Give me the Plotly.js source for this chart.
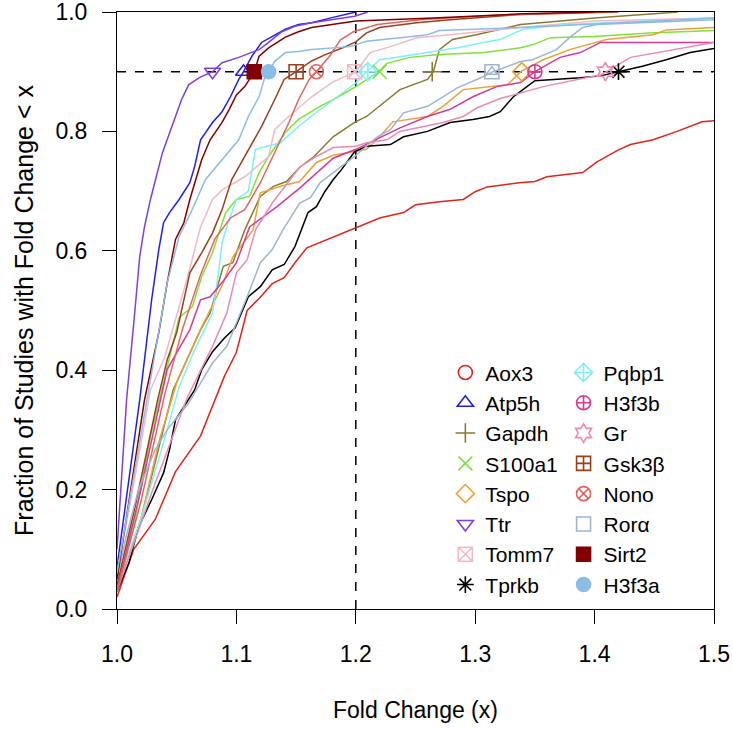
<!DOCTYPE html>
<html>
<head>
<meta charset="utf-8">
<script src="https://cdn.plot.ly/plotly-3.0.1.min.js"></script>
<style>
  body { margin: 0; background: #fff; }
</style>
</head>
<body>
<div id="myDiv" style="width:733px;height:729px;"></div>
<script>
// fold change (x) and fraction of studies with fold change < x
var aox3X = [1.0, 1.014, 1.032, 1.049, 1.07, 1.082, 1.09, 1.1, 1.109, 1.119, 1.13, 1.14, 1.149, 1.159, 1.2, 1.22, 1.24, 1.25, 1.27, 1.29, 1.3, 1.31, 1.337, 1.35, 1.36, 1.39, 1.402, 1.42, 1.43, 1.449, 1.469, 1.49, 1.5];
var aox3Y = [0.02, 0.10, 0.15, 0.23, 0.29, 0.35, 0.39, 0.43, 0.50, 0.52, 0.545, 0.555, 0.58, 0.605, 0.638, 0.655, 0.664, 0.677, 0.682, 0.686, 0.699, 0.707, 0.714, 0.716, 0.724, 0.731, 0.749, 0.769, 0.778, 0.786, 0.80, 0.816, 0.818];

var atp5hX = [1.0, 1.019, 1.029, 1.035, 1.039, 1.044, 1.052, 1.061, 1.065, 1.07, 1.08, 1.088, 1.095, 1.102, 1.106, 1.113, 1.121, 1.13, 1.141, 1.152, 1.163, 1.181, 1.195, 1.2];
var atp5hY = [0.07, 0.35, 0.518, 0.602, 0.647, 0.664, 0.686, 0.714, 0.741, 0.786, 0.815, 0.833, 0.858, 0.887, 0.9, 0.926, 0.949, 0.959, 0.971, 0.979, 0.982, 0.991, 0.998, 1.0];

var gapdhX = [1.0, 1.02, 1.035, 1.047, 1.07, 1.078, 1.089, 1.097, 1.107, 1.12, 1.131, 1.142, 1.153, 1.164, 1.181, 1.199, 1.209, 1.223, 1.237, 1.26, 1.265, 1.27, 1.281, 1.301, 1.338, 1.4, 1.47];
var gapdhY = [0.03, 0.15, 0.27, 0.367, 0.468, 0.496, 0.574, 0.58, 0.635, 0.691, 0.708, 0.716, 0.74, 0.756, 0.791, 0.815, 0.825, 0.848, 0.87, 0.887, 0.9, 0.937, 0.954, 0.962, 0.979, 0.99, 1.0];

var s100a1X = [1.0, 1.015, 1.028, 1.052, 1.063, 1.071, 1.08, 1.091, 1.1, 1.111, 1.119, 1.127, 1.141, 1.152, 1.17, 1.181, 1.2, 1.218, 1.226, 1.245, 1.27, 1.307, 1.338, 1.348, 1.363, 1.399, 1.446, 1.5];
var s100a1Y = [0.03, 0.15, 0.288, 0.488, 0.506, 0.557, 0.597, 0.664, 0.686, 0.691, 0.731, 0.758, 0.798, 0.82, 0.842, 0.853, 0.875, 0.898, 0.914, 0.924, 0.929, 0.932, 0.94, 0.945, 0.957, 0.959, 0.965, 0.969];

var tspoX = [1.0, 1.02, 1.035, 1.05, 1.07, 1.089, 1.097, 1.114, 1.12, 1.137, 1.153, 1.167, 1.181, 1.2, 1.209, 1.22, 1.231, 1.26, 1.273, 1.29, 1.327, 1.338, 1.357, 1.379, 1.41, 1.449, 1.46, 1.5];
var tspoY = [0.03, 0.15, 0.28, 0.379, 0.468, 0.546, 0.59, 0.635, 0.697, 0.708, 0.716, 0.748, 0.76, 0.766, 0.77, 0.791, 0.816, 0.825, 0.842, 0.87, 0.878, 0.9, 0.92, 0.937, 0.954, 0.962, 0.97, 0.974];

var ttrX = [1.0, 1.008, 1.015, 1.019, 1.023, 1.028, 1.038, 1.046, 1.054, 1.06, 1.069, 1.08, 1.088, 1.102, 1.119, 1.127, 1.138, 1.149, 1.163, 1.199, 1.21];
var ttrY = [0.1, 0.35, 0.50, 0.59, 0.64, 0.686, 0.764, 0.808, 0.853, 0.878, 0.89, 0.9, 0.915, 0.924, 0.937, 0.949, 0.967, 0.976, 0.982, 0.993, 1.0];

var tomm7X = [1.0, 1.015, 1.028, 1.04, 1.052, 1.06, 1.07, 1.08, 1.088, 1.107, 1.127, 1.132, 1.141, 1.163, 1.181, 1.2, 1.212, 1.229, 1.251, 1.279, 1.338, 1.4, 1.5];
var tomm7Y = [0.06, 0.22, 0.367, 0.422, 0.506, 0.563, 0.64, 0.686, 0.702, 0.724, 0.758, 0.803, 0.82, 0.858, 0.883, 0.9, 0.932, 0.942, 0.957, 0.962, 0.974, 0.985, 0.99];

var tprkbX = [1.0, 1.01, 1.018, 1.029, 1.039, 1.044, 1.049, 1.056, 1.065, 1.071, 1.08, 1.09, 1.099, 1.11, 1.12, 1.13, 1.14, 1.149, 1.16, 1.167, 1.174, 1.181, 1.188, 1.199, 1.209, 1.229, 1.24, 1.26, 1.279, 1.298, 1.312, 1.321, 1.332, 1.338, 1.35, 1.388, 1.405, 1.42, 1.44, 1.46, 1.48, 1.5];
var tprkbY = [0.03, 0.077, 0.137, 0.183, 0.228, 0.267, 0.317, 0.339, 0.367, 0.401, 0.431, 0.454, 0.471, 0.523, 0.54, 0.568, 0.577, 0.607, 0.664, 0.674, 0.699, 0.719, 0.736, 0.766, 0.775, 0.778, 0.791, 0.8, 0.815, 0.82, 0.825, 0.833, 0.858, 0.867, 0.885, 0.89, 0.893, 0.9, 0.909, 0.92, 0.932, 0.939];

var pqbp1X = [1.0, 1.02, 1.042, 1.052, 1.065, 1.08, 1.085, 1.088, 1.094, 1.1, 1.11, 1.116, 1.137, 1.153, 1.181, 1.2, 1.209, 1.22, 1.237, 1.265, 1.285, 1.307, 1.321, 1.34, 1.377, 1.5];
var pqbp1Y = [0.04, 0.15, 0.3, 0.372, 0.434, 0.496, 0.563, 0.614, 0.652, 0.686, 0.7, 0.77, 0.781, 0.81, 0.853, 0.881, 0.9, 0.92, 0.925, 0.934, 0.94, 0.949, 0.954, 0.971, 0.979, 0.99];

var h3f3bX = [1.0, 1.02, 1.042, 1.061, 1.07, 1.078, 1.09, 1.1, 1.111, 1.134, 1.153, 1.181, 1.2, 1.22, 1.237, 1.26, 1.279, 1.298, 1.318, 1.338, 1.35, 1.371, 1.388, 1.405, 1.5];
var h3f3bY = [0.03, 0.2, 0.401, 0.468, 0.518, 0.523, 0.552, 0.58, 0.64, 0.674, 0.705, 0.755, 0.77, 0.79, 0.806, 0.825, 0.837, 0.858, 0.875, 0.882, 0.9, 0.924, 0.932, 0.949, 0.949];

var grX = [1.0, 1.03, 1.059, 1.08, 1.092, 1.1, 1.109, 1.116, 1.13, 1.153, 1.167, 1.181, 1.2, 1.209, 1.226, 1.237, 1.273, 1.29, 1.302, 1.321, 1.357, 1.405, 1.41, 1.43, 1.5];
var grY = [0.03, 0.2, 0.355, 0.44, 0.496, 0.563, 0.585, 0.635, 0.68, 0.74, 0.758, 0.773, 0.775, 0.781, 0.786, 0.8, 0.815, 0.825, 0.84, 0.855, 0.875, 0.895, 0.9, 0.924, 0.949];

var gsk3bX = [1.0, 1.015, 1.034, 1.042, 1.05, 1.061, 1.071, 1.08, 1.088, 1.096, 1.107, 1.121, 1.132, 1.14, 1.15, 1.163, 1.175, 1.189, 1.2, 1.209, 1.22, 1.251, 1.279, 1.338, 1.42];
var gsk3bY = [0.04, 0.17, 0.35, 0.417, 0.463, 0.563, 0.597, 0.63, 0.669, 0.719, 0.758, 0.808, 0.853, 0.887, 0.9, 0.918, 0.929, 0.94, 0.95, 0.965, 0.974, 0.982, 0.987, 0.996, 1.0];

var nonoX = [1.0, 1.02, 1.04, 1.055, 1.07, 1.082, 1.095, 1.107, 1.12, 1.132, 1.144, 1.152, 1.161, 1.167, 1.178, 1.187, 1.198, 1.218, 1.254, 1.32, 1.4];
var nonoY = [0.03, 0.18, 0.36, 0.47, 0.56, 0.62, 0.655, 0.669, 0.714, 0.764, 0.815, 0.853, 0.887, 0.9, 0.926, 0.953, 0.967, 0.979, 0.987, 0.995, 1.0];

var roraX = [1.0, 1.007, 1.018, 1.032, 1.042, 1.06, 1.08, 1.092, 1.109, 1.12, 1.13, 1.139, 1.153, 1.162, 1.17, 1.184, 1.199, 1.218, 1.229, 1.24, 1.26, 1.273, 1.285, 1.307, 1.315, 1.338, 1.348, 1.368, 1.379, 1.39, 1.402, 1.5];
var roraY = [0.05, 0.116, 0.2, 0.267, 0.3, 0.345, 0.412, 0.44, 0.523, 0.58, 0.602, 0.635, 0.68, 0.689, 0.714, 0.736, 0.758, 0.791, 0.803, 0.831, 0.842, 0.858, 0.873, 0.892, 0.9, 0.917, 0.92, 0.937, 0.957, 0.974, 0.979, 0.987];

var sirt2X = [1.0, 1.023, 1.035, 1.042, 1.049, 1.056, 1.061, 1.065, 1.071, 1.078, 1.088, 1.094, 1.1, 1.107, 1.111, 1.115, 1.119, 1.127, 1.141, 1.152, 1.163, 1.2, 1.265, 1.34, 1.4];
var sirt2Y = [0.05, 0.35, 0.463, 0.546, 0.619, 0.647, 0.686, 0.714, 0.753, 0.786, 0.815, 0.837, 0.861, 0.875, 0.887, 0.9, 0.926, 0.94, 0.958, 0.967, 0.974, 0.985, 0.99, 0.997, 1.0];

var h3f3aX = [1.0, 1.025, 1.029, 1.035, 1.042, 1.052, 1.063, 1.074, 1.088, 1.102, 1.11, 1.119, 1.124, 1.127, 1.132, 1.141, 1.152, 1.163, 1.195, 1.209, 1.237, 1.26, 1.27, 1.338, 1.4, 1.5];
var h3f3aY = [0.06, 0.35, 0.396, 0.463, 0.546, 0.624, 0.669, 0.719, 0.753, 0.786, 0.825, 0.858, 0.892, 0.9, 0.917, 0.932, 0.934, 0.937, 0.942, 0.951, 0.957, 0.962, 0.969, 0.974, 0.98, 0.99];

var genes = ['Aox3', 'Atp5h', 'Gapdh', 'S100a1', 'Tspo', 'Ttr', 'Tomm7', 'Tprkb',
             'Pqbp1', 'H3f3b', 'Gr', 'Gsk3β', 'Nono', 'Rorα', 'Sirt2', 'H3f3a'];
// fold change at which each curve reaches 0.9 (Aox3 lies past the axis)
var q90 = [1.58, 1.106, 1.264, 1.22, 1.339, 1.08, 1.199, 1.42,
           1.21, 1.35, 1.409, 1.15, 1.167, 1.314, 1.115, 1.127];
var cutoff = 0.9;
var foldLine = 1.2;

var curves = [[aox3X, aox3Y], [atp5hX, atp5hY], [gapdhX, gapdhY], [s100a1X, s100a1Y],
              [tspoX, tspoY], [ttrX, ttrY], [tomm7X, tomm7Y], [tprkbX, tprkbY],
              [pqbp1X, pqbp1Y], [h3f3bX, h3f3bY], [grX, grY], [gsk3bX, gsk3bY],
              [nonoX, nonoY], [roraX, roraY], [sirt2X, sirt2Y], [h3f3aX, h3f3aY]];

var colors = ['#e2231a', '#1f1fe8', '#8a7a2e', '#7fe23a', '#eba13a', '#7e3fe0', '#f3b8c6', '#000000',
              '#7df0fb', '#d43a98', '#ea8bb4', '#98401c', '#e2655f', '#9db5d0', '#800000', '#8cbce8'];
var symbols = ['circle-open', 'triangle-up-open', 'cross-thin-open', 'x-thin-open',
               'diamond-open', 'triangle-down-open', 'square-x-open', 'asterisk-open',
               'diamond-cross-open', 'circle-cross-open', 'hexagram-open', 'square-cross-open',
               'circle-x-open', 'square-open', 'square', 'circle'];

var graphDiv = document.getElementById('myDiv');
var traces = [];

genes.forEach(function (g, i) {
    traces.push({
        type: 'scatter',
        mode: 'lines',
        x: curves[i][0],
        y: curves[i][1],
        line: { color: colors[i], width: 1.5 },
        showlegend: false,
        hoverinfo: 'skip'
    });
});

genes.forEach(function (g, i) {
    traces.push({
        type: 'scatter',
        mode: 'markers',
        name: g,
        x: [q90[i]],
        y: [cutoff],
        legend: i < 8 ? 'legend' : 'legend2',
        marker: {
            symbol: symbols[i],
            size: 14,
            color: colors[i],
            line: { color: colors[i], width: 1.6 }
        }
    });
});

// triangle inside the Rorα square
traces.push({
    type: 'scatter',
    mode: 'markers',
    x: [q90[13]],
    y: [cutoff],
    showlegend: false,
    marker: { symbol: 'triangle-up-open', size: 10, color: colors[13], line: { color: colors[13], width: 1.4 } }
});

var axisStyle = {
    showline: true,
    linecolor: '#000',
    linewidth: 1,
    mirror: true,
    ticks: 'outside',
    ticklen: 14,
    tickwidth: 1,
    tickcolor: '#000',
    showgrid: false,
    zeroline: false,
    tickformat: '.1f',
    ticklabeloverflow: 'allow',
    tickfont: { size: 23 }
};

var legendStyle = {
    font: { size: 21, color: '#000' },
    bgcolor: 'rgba(0,0,0,0)',
    itemwidth: 30,
    tracegroupgap: 0,
    yanchor: 'top',
    xanchor: 'left'
};

Plotly.newPlot(graphDiv, traces, {
    width: 733,
    height: 729,
    margin: { l: 117, r: 19, t: 12, b: 120 },
    paper_bgcolor: '#fff',
    plot_bgcolor: '#fff',
    font: { family: 'Liberation Sans, Arial, Helvetica, sans-serif', color: '#000' },
    xaxis: Object.assign({}, axisStyle, {
        range: [1, 1.5],
        tick0: 1,
        dtick: 0.1,
        ticklabelstandoff: 10,
        title: { text: 'Fold Change (x)', font: { size: 23 }, standoff: 36 }
    }),
    yaxis: Object.assign({}, axisStyle, {
        range: [0, 1],
        tick0: 0,
        dtick: 0.2,
        ticklabelstandoff: 10,
        title: { text: 'Fraction of Studies with Fold Change < x', font: { size: 25 }, standoff: 14 }
    }),
    legend: Object.assign({}, legendStyle, { x: 0.55, y: 0.43 }),
    legend2: Object.assign({}, legendStyle, { x: 0.748, y: 0.43 }),
    shapes: [
        { type: 'line', xref: 'x', yref: 'paper', x0: foldLine, x1: foldLine, y0: 0, y1: 1,
          layer: 'below', line: { color: '#000', width: 1.5, dash: 'dash' } },
        { type: 'line', xref: 'paper', yref: 'y', x0: 0, x1: 1, y0: cutoff, y1: cutoff,
          layer: 'below', line: { color: '#000', width: 1.5, dash: 'dash' } }
    ]
}, { displayModeBar: false, staticPlot: true });
</script>
</body>
</html>
